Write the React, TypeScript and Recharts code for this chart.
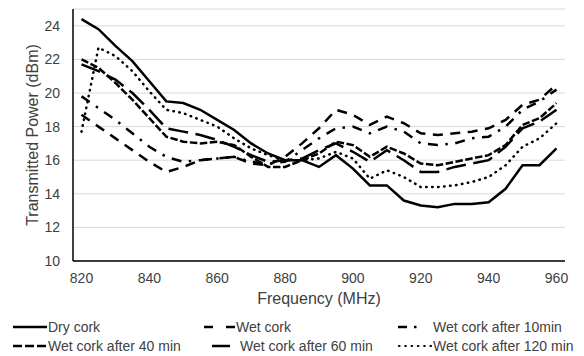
import React from 'react';
import { LineChart, Line, XAxis, YAxis, CartesianGrid } from 'recharts';

const frequencies = [820, 825, 830, 835, 840, 845, 850, 855, 860, 865, 870, 875, 880, 885, 890, 895, 900, 905, 910, 915, 920, 925, 930, 935, 940, 945, 950, 955, 960];

const dryCork = [24.4, 23.8, 22.8, 21.9, 20.7, 19.5, 19.4, 19.0, 18.4, 17.8, 17.0, 16.4, 16.0, 16.0, 15.6, 16.3, 15.5, 14.5, 14.5, 13.6, 13.3, 13.2, 13.4, 13.4, 13.5, 14.3, 15.7, 15.7, 16.7];
const wetCork = [18.7, 18.0, 17.3, 16.6, 15.9, 15.3, 15.6, 16.0, 16.1, 16.2, 15.8, 15.7, 16.2, 17.0, 17.9, 19.0, 18.7, 18.1, 18.6, 18.2, 17.6, 17.5, 17.6, 17.7, 17.9, 18.4, 19.3, 19.6, 20.5];
const wet10 = [19.8, 19.1, 18.4, 17.6, 16.8, 16.2, 15.9, 16.0, 16.1, 16.2, 15.9, 15.8, 15.9, 16.6, 17.3, 17.9, 18.0, 17.6, 18.0, 17.7, 17.0, 16.9, 17.0, 17.3, 17.4, 18.0, 19.0, 19.5, 20.2];
const wet40 = [22.0, 21.5, 20.6, 19.6, 18.5, 17.4, 17.1, 17.0, 17.1, 16.9, 16.2, 15.6, 15.6, 16.0, 16.4, 17.1, 16.9, 16.2, 16.8, 16.4, 15.8, 15.7, 15.9, 16.1, 16.3, 16.9, 18.1, 18.5, 19.4];
const wet60 = [21.7, 21.3, 20.8, 20.0, 19.0, 17.9, 17.7, 17.5, 17.2, 16.8, 16.3, 15.9, 16.0, 16.1, 16.6, 17.0, 16.5, 15.9, 16.6, 16.0, 15.3, 15.3, 15.6, 15.8, 16.0, 16.8, 17.9, 18.3, 19.0];
const wet120 = [17.7, 22.7, 22.2, 21.3, 20.1, 19.0, 18.8, 18.4, 18.0, 17.3, 16.7, 16.3, 16.0, 16.0, 16.1, 16.5, 16.1, 14.9, 15.4, 15.0, 14.4, 14.4, 14.5, 14.7, 15.0, 15.7, 16.8, 17.3, 18.2];

const yTicks = [10, 12, 14, 16, 18, 20, 22, 24];

const seriesNames = ['Dry cork', 'Wet cork', 'Wet cork after 10min', 'Wet cork after 40 min', 'Wet cork after 60 min', 'Wet cork after 120 min'];

const FONT = '"Liberation Sans", Arial, Helvetica, sans-serif';
const TEXT = '#404040';
const W = 2.5;

const dash = {
  wet: '10 7.5',
  w10: '10 7.5 2.5 7.5',
  w40: '7.5 2.5',
  w60: '20 7.5',
  w120: '0.5 5.5',
};

const renderXLabel = (props: any) => {
  const vb = props.viewBox || {};
  const cx = vb.x + vb.width / 2;
  return (
    <text x={cx} y={298} textAnchor="middle" dominantBaseline="central" fontSize={16} fill={TEXT} fontFamily={FONT}>
      Frequency (MHz)
    </text>
  );
};

const renderYLabel = (props: any) => {
  const vb = props.viewBox || {};
  const cy = vb.y + vb.height / 2;
  return (
    <text x={32} y={cy} transform={`rotate(-90 32 ${cy})`} textAnchor="middle" dominantBaseline="central" fontSize={16} fill={TEXT} fontFamily={FONT}>
      Transmitted Power (dBm)
    </text>
  );
};

const Legend6 = () => {
  const r1 = 327;
  const r2 = 346;
  const ls = { stroke: '#000', strokeWidth: W, fill: 'none' } as const;
  const ts = { fontSize: 14, fill: TEXT, fontFamily: FONT, dominantBaseline: 'central' as const };
  return (
    <svg width={584} height={356} style={{ position: 'absolute', left: 0, top: 0, pointerEvents: 'none' }}>
      <line x1={13} x2={47} y1={r1} y2={r1} {...ls} />
      <text x={48} y={r1} {...ts}>{seriesNames[0]}</text>
      <line x1={204} x2={213} y1={r1} y2={r1} {...ls} />
      <line x1={226} x2={235} y1={r1} y2={r1} {...ls} />
      <text x={236} y={r1} {...ts}>{seriesNames[1]}</text>
      <line x1={398} x2={407} y1={r1} y2={r1} {...ls} />
      <line x1={414} x2={416.5} y1={r1} y2={r1} {...ls} />
      <text x={433} y={r1} {...ts}>{seriesNames[2]}</text>
      <line x1={13} x2={47} y1={r2} y2={r2} {...ls} strokeDasharray="9 3" />
      <text x={48} y={r2} {...ts}>{seriesNames[3]}</text>
      <line x1={212} x2={230} y1={r2} y2={r2} {...ls} />
      <text x={240} y={r2} {...ts}>{seriesNames[4]}</text>
      <line x1={399} x2={431} y1={r2} y2={r2} {...ls} strokeWidth={2.2} strokeDasharray="0.5 5.8" strokeLinecap="round" />
      <text x={433} y={r2} {...ts}>{seriesNames[5]}</text>
    </svg>
  );
};

export default function App() {
  const data = frequencies.map((f, i) => ({
    freq: f,
    dry: dryCork[i],
    wet: wetCork[i],
    w10: wet10[i],
    w40: wet40[i],
    w60: wet60[i],
    w120: wet120[i],
  }));

  const lineProps = {
    type: 'linear' as const,
    stroke: '#000',
    strokeWidth: W,
    dot: false,
    activeDot: false,
    isAnimationActive: false,
  };

  return (
    <div style={{ position: 'absolute', left: 0, top: 0, width: 584, height: 356, background: '#fff', fontFamily: FONT }}>
      <LineChart width={584} height={356} data={data} margin={{ top: 9, right: 19, bottom: 0, left: 0 }}>
        <CartesianGrid horizontal vertical={false} stroke="#d9d9d9" strokeWidth={1} />
        <XAxis
          dataKey="freq"
          interval={3}
          padding={{ left: 8.5, right: 8.5 }}
          height={95}
          tickLine={false}
          tickSize={0}
          tickMargin={12}
          axisLine={{ stroke: '#000', strokeWidth: 1.5 }}
          tick={{ fill: TEXT, fontSize: 14, fontFamily: FONT }}
          label={renderXLabel}
        />
        <YAxis
          width={73}
          domain={[10, 25]}
          ticks={yTicks}
          interval={0}
          tickLine={false}
          tickSize={0}
          tickMargin={13}
          axisLine={{ stroke: '#000', strokeWidth: 1.5 }}
          tick={{ fill: TEXT, fontSize: 14, fontFamily: FONT }}
          label={renderYLabel}
        />
        <Line {...lineProps} dataKey="w120" name={seriesNames[5]} strokeDasharray={dash.w120} strokeLinecap="round" />
        <Line {...lineProps} dataKey="w60" name={seriesNames[4]} strokeDasharray={dash.w60} />
        <Line {...lineProps} dataKey="w40" name={seriesNames[3]} strokeDasharray={dash.w40} />
        <Line {...lineProps} dataKey="w10" name={seriesNames[2]} strokeDasharray={dash.w10} />
        <Line {...lineProps} dataKey="wet" name={seriesNames[1]} strokeDasharray={dash.wet} />
        <Line {...lineProps} dataKey="dry" name={seriesNames[0]} />
      </LineChart>
      <Legend6 />
    </div>
  );
}
